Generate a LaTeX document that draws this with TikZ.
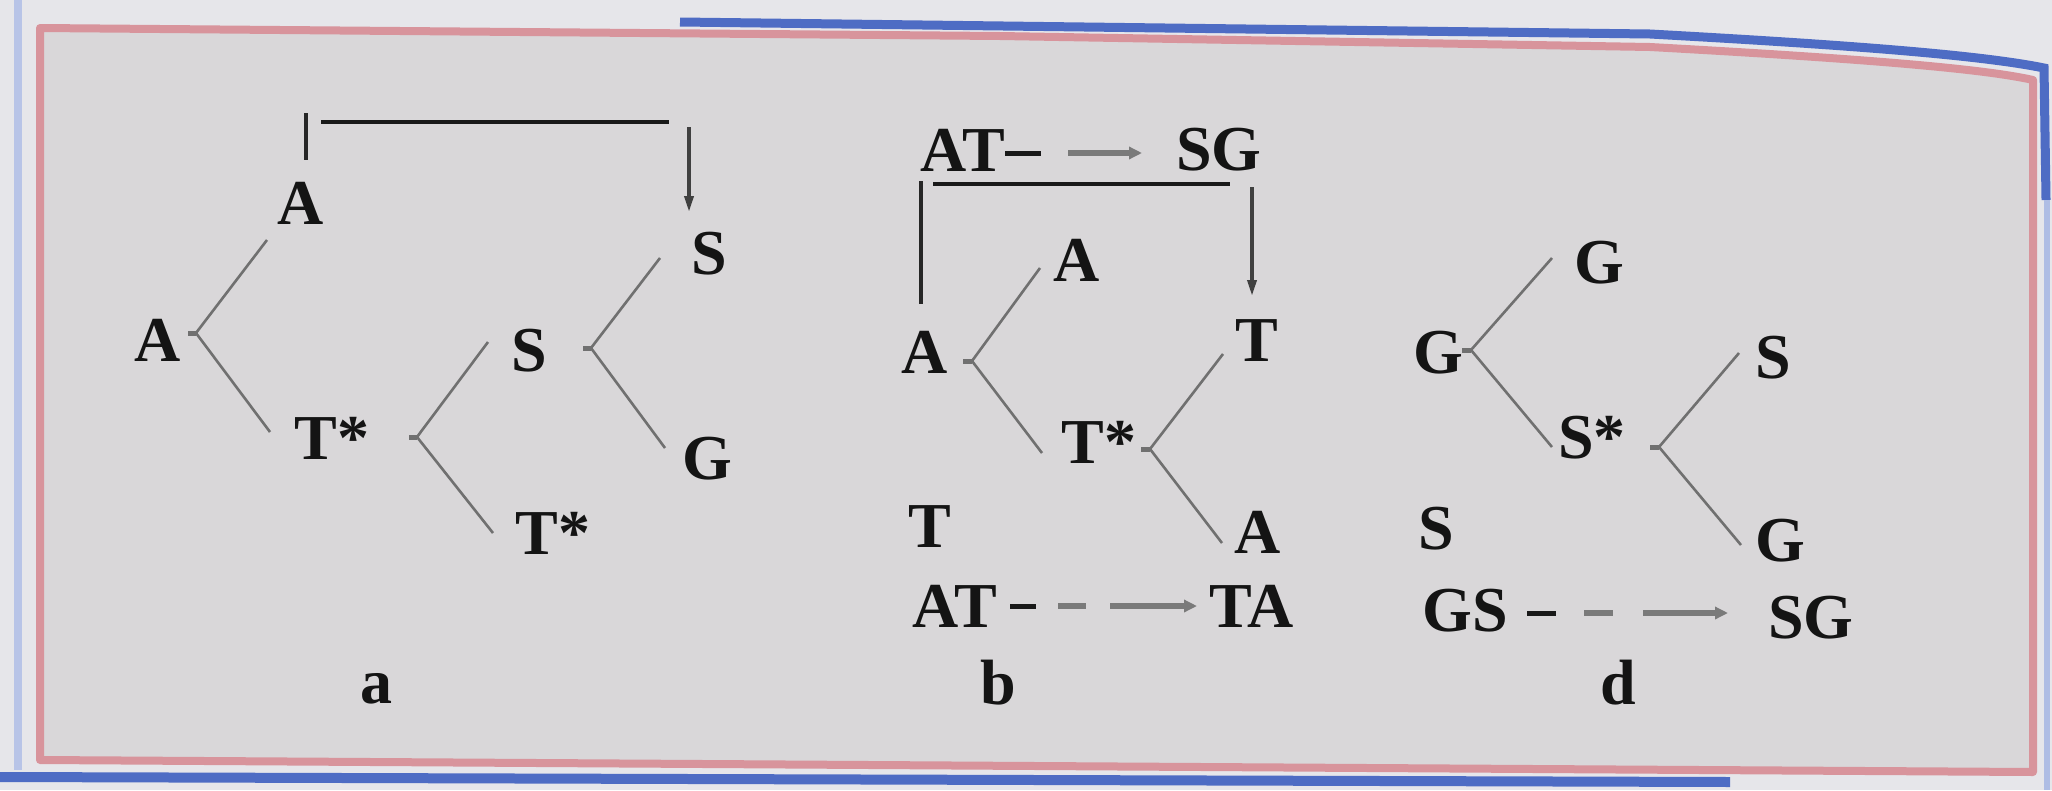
\documentclass[tikz,border=0pt]{standalone}
\usepackage{fontspec}
\setmainfont{Liberation Serif}
\usetikzlibrary{arrows.meta}
\definecolor{outbg}{HTML}{E6E6EA}
\definecolor{inbg}{HTML}{D9D7D9}
\definecolor{pinkline}{HTML}{D8949C}
\definecolor{blueline}{HTML}{4E6CC4}
\definecolor{linegray}{HTML}{707070}
\definecolor{arrgray}{HTML}{7A7A7A}
\begin{document}
\begin{tikzpicture}[x=1pt,y=-1pt,
  lt/.style={font=\fontsize{64}{66}\selectfont\bfseries, inner sep=0pt, anchor=base, text=black!92},
  lab/.style={font=\fontsize{64}{66}\selectfont\bfseries, inner sep=0pt, anchor=base, text=black!92},
  br/.style={draw=linegray, line width=2.6pt},
  bk/.style={draw=black!90, line width=4.5pt},
  vline/.style={draw=black!85, line width=3.5pt},
  varr/.style={draw=black!75, line width=3.5pt, -{Triangle[length=16pt,width=9pt]}},
  harr/.style={draw=arrgray, line width=6pt, -{Triangle[length=13pt,width=12pt]}},
  hdash/.style={draw=black!90, line width=5pt},
  gdash/.style={draw=arrgray, line width=6pt}]
\useasboundingbox (0,0) rectangle (2052,790);
% background and frame
\fill[outbg] (0,0) rectangle (2052,790);
\fill[inbg] (40,28) -- (1000,36) -- (1650,47) .. controls (1850,58) and (1980,68) .. (2033,80) -- (2033,772) -- (40,760) -- cycle;
\draw[blueline, line width=9pt] (680,22) -- (1650,34) .. controls (1850,45) and (1980,55) .. (2044,68) -- (2046,200);
\draw[blueline!45, line width=6pt] (2047,200) -- (2047,790);
\draw[blueline, line width=10pt] (0,777) -- (1730,782);
\draw[blueline!40, line width=8pt] (18,0) -- (18,770);
\draw[pinkline, line width=8pt, line join=round] (40,28) -- (1000,36) -- (1650,47) .. controls (1850,58) and (1980,68) .. (2033,80) -- (2033,772) -- (40,760) -- cycle;

% ---------------- panel a ----------------
\node[lt] (aA1) at (301,224) {A};
\node[lt] (aS1) at (709,274) {S};
\node[lt] (aA2) at (158,361) {A};
\node[lt] (aS2) at (529,371) {S};
\node[lt] (aT1) at (332,459) {T*};
\node[lt] (aG)  at (707,479) {G};
\node[lt] (aT2) at (553,554) {T*};
\node[lab] (la) at (376,703) {a};

\coordinate (ab1) at (196,333); \coordinate (ab1u) at (267,240); \coordinate (ab1d) at (270,432);
\coordinate (ab2) at (417,437); \coordinate (ab2u) at (488,342); \coordinate (ab2d) at (493,533);
\coordinate (ab3) at (591,348); \coordinate (ab3u) at (660,258); \coordinate (ab3d) at (665,448);
\draw[br] (ab1u) -- (ab1) -- (ab1d);
\draw[br] (ab2u) -- (ab2) -- (ab2d);
\draw[br] (ab3u) -- (ab3) -- (ab3d);
\draw[br, line width=5pt] (ab1) -- ++(-8,0);
\draw[br, line width=5pt] (ab2) -- ++(-8,0);
\draw[br, line width=5pt] (ab3) -- ++(-8,0);

\coordinate (at1) at (306,113); \coordinate (at2) at (306,160);
\coordinate (ah1) at (321,122); \coordinate (ah2) at (669,122);
\coordinate (av1) at (689,127); \coordinate (av2) at (689,212);
\draw[vline] (at1) -- (at2);
\draw[bk] (ah1) -- (ah2);
\draw[varr] (av1) -- (av2);

% ---------------- panel b ----------------
\node[lt] (bAT) at (963,171) {AT};
\node[lt] (bSG) at (1219,170) {SG};
\node[lt] (bA1) at (1077,281) {A};
\node[lt] (bA2) at (925,373) {A};
\node[lt] (bT1) at (1257,361) {T};
\node[lt] (bTs) at (1099,463) {T*};
\node[lt] (bA3) at (1258,553) {A};
\node[lt] (bT2) at (930,547) {T};
\node[lt] (bAT2) at (955,627) {AT};
\node[lt] (bTA) at (1252,627) {TA};
\node[lab] (lb) at (998,704) {b};

\coordinate (bd1) at (1005,153); \coordinate (bd2) at (1041,153);
\coordinate (bar1) at (1068,153); \coordinate (bar2) at (1142,153);
\draw[hdash] (bd1) -- (bd2);
\draw[harr] (bar1) -- (bar2);

\coordinate (bh1) at (933,184); \coordinate (bh2) at (1230,184);
\coordinate (bl1) at (921,181); \coordinate (bl2) at (921,304);
\coordinate (bv1) at (1252,187); \coordinate (bv2) at (1252,296);
\draw[bk] (bh1) -- (bh2);
\draw[vline] (bl1) -- (bl2);
\draw[varr] (bv1) -- (bv2);

\coordinate (bb1) at (972,361); \coordinate (bb1u) at (1040,268); \coordinate (bb1d) at (1042,453);
\coordinate (bb2) at (1150,449); \coordinate (bb2u) at (1223,354); \coordinate (bb2d) at (1222,543);
\draw[br] (bb1u) -- (bb1) -- (bb1d);
\draw[br] (bb2u) -- (bb2) -- (bb2d);
\draw[br, line width=5pt] (bb1) -- ++(-9,0);
\draw[br, line width=5pt] (bb2) -- ++(-9,0);

\coordinate (be1) at (1010,606); \coordinate (be2) at (1036,606);
\coordinate (bg1) at (1058,606); \coordinate (bg2) at (1086,606);
\coordinate (bq1) at (1110,606); \coordinate (bq2) at (1197,606);
\draw[hdash] (be1) -- (be2);
\draw[gdash] (bg1) -- (bg2);
\draw[harr] (bq1) -- (bq2);

% ---------------- panel d ----------------
\node[lt] (dG1) at (1599,283) {G};
\node[lt] (dG2) at (1438,373) {G};
\node[lt] (dS1) at (1773,378) {S};
\node[lt] (dSs) at (1592,458) {S*};
\node[lt] (dG3) at (1780,561) {G};
\node[lt] (dS2) at (1436,549) {S};
\node[lt] (dGS) at (1465,631) {GS};
\node[lt] (dSG) at (1811,638) {SG};
\node[lab] (ld) at (1618,704) {d};

\coordinate (db1) at (1471,350); \coordinate (db1u) at (1552,258); \coordinate (db1d) at (1552,447);
\coordinate (db2) at (1659,447); \coordinate (db2u) at (1739,353); \coordinate (db2d) at (1741,545);
\draw[br] (db1u) -- (db1) -- (db1d);
\draw[br] (db2u) -- (db2) -- (db2d);
\draw[br, line width=5pt] (db1) -- ++(-9,0);
\draw[br, line width=5pt] (db2) -- ++(-9,0);

\coordinate (de1) at (1527,613); \coordinate (de2) at (1556,613);
\coordinate (dg1) at (1584,613); \coordinate (dg2) at (1613,613);
\coordinate (dq1) at (1643,613); \coordinate (dq2) at (1728,613);
\draw[hdash] (de1) -- (de2);
\draw[gdash] (dg1) -- (dg2);
\draw[harr] (dq1) -- (dq2);
\end{tikzpicture}
\end{document}
